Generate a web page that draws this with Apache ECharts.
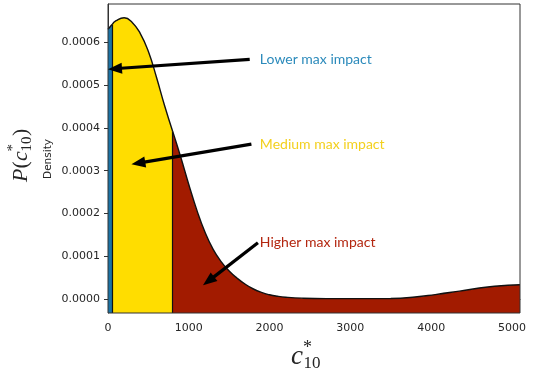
<!DOCTYPE html>
<html>
<head>
<meta charset="utf-8">
<script src="https://cdn.jsdelivr.net/npm/echarts@6/dist/echarts.min.js"></script>
<style>
  html, body { margin: 0; padding: 0; background: #ffffff; }
  #chart { width: 534px; height: 371px; }
</style>
</head>
<body>
<div id="chart"></div>
<script>
// Estimated density of c*_10, sampled along the horizontal axis
const xValues = [0, 50, 100, 200, 300, 400, 500, 600, 700, 800,
  900, 1000, 1100, 1200, 1300, 1400, 1500, 1600, 1700, 1800,
  1900, 2000, 2100, 2200, 2400, 2700, 3100, 3500, 3800, 4050,
  4350, 4700, 4950, 5100];
const density = [0.000630, 0.000641, 0.000650, 0.000657, 0.000646, 0.000620, 0.000578, 0.000518, 0.000452, 0.000392,
  0.000332, 0.000268, 0.000208, 0.000157, 0.000117, 0.000088, 0.000066, 0.000049, 0.000035, 0.000024,
  0.000016, 0.0000105, 0.0000070, 0.0000048, 0.0000026, 0.0000016, 0.0000016, 0.0000020, 0.0000052, 0.0000110,
  0.0000190, 0.0000287, 0.0000326, 0.0000340];

// Class boundaries along c*_10
const classBreaks = [0, 50, 800, 5100];
const classNames = ['Lower max impact', 'Medium max impact', 'Higher max impact'];

// Axis ticks
const xTicks = [0, 1000, 2000, 3000, 4000, 5000];
const yTicks = [0, 0.0001, 0.0002, 0.0003, 0.0004, 0.0005, 0.0006];

// Annotation arrows in data units: tail -> tip, label placed just right of the tail
const arrowTails = [[1754, 0.000560], [1775, 0.000362], [1856, 0.000132]];
const arrowTips = [[0, 0.000537], [290, 0.000315], [1176, 0.0000325]];
const labelAnchors = [[1880, 0.000560], [1880, 0.000362], [1880, 0.000132]];

const fillColors = ['#1b72a4', '#ffdd00', '#a21b00'];
const labelColors = ['#2b8abb', '#f3d01e', '#b3260f'];

const X_MIN = 0, X_MAX = 5100;
const Y_MIN = -0.000032, Y_MAX = 0.000689;

function segment(from, to) {
  const pts = [];
  xValues.forEach((x, i) => { if (x >= from && x <= to) pts.push([x, density[i]]); });
  return pts;
}
function densityAt(x) { return density[xValues.indexOf(x)]; }

const series = classNames.map((name, k) => {
  const from = classBreaks[k], to = classBreaks[k + 1];
  const s = {
    name: name,
    type: 'line',
    data: segment(from, to),
    smooth: 0.5,
    showSymbol: false,
    silent: true,
    z: 2 + k,
    lineStyle: { color: '#111111', width: 1.4 },
    areaStyle: { color: fillColors[k], opacity: 1, origin: 'start' }
  };
  if (k > 0) {
    // dark edge separating this class from the previous one
    s.markLine = {
      silent: true, symbol: 'none', label: { show: false },
      lineStyle: { color: '#111111', width: 1.2, type: 'solid' },
      data: [[{ coord: [from, Y_MIN] }, { coord: [from, densityAt(from)] }]]
    };
  }
  return s;
});

const chart = echarts.init(document.getElementById('chart'), null, { renderer: 'canvas' });

const tickFont = { fontFamily: 'DejaVu Sans', fontSize: 11, color: '#262626' };

chart.setOption({
  animation: false,
  backgroundColor: '#ffffff',
  grid: { left: 108, right: 14, top: 4, bottom: 58, show: true, borderColor: '#333333', borderWidth: 1, backgroundColor: 'transparent', z: 10 },
  xAxis: {
    type: 'value', min: X_MIN, max: X_MAX,
    axisLine: { show: true, lineStyle: { color: '#333333', width: 1 } },
    axisTick: { show: true, length: 4, lineStyle: { color: '#333333' }, customValues: xTicks },
    axisLabel: Object.assign({ margin: 10, customValues: xTicks, formatter: v => String(v) }, tickFont),
    splitLine: { show: false }
  },
  yAxis: {
    type: 'value', min: Y_MIN, max: Y_MAX,
    axisLine: { show: true, lineStyle: { color: '#333333', width: 1 } },
    axisTick: { show: true, length: 4, lineStyle: { color: '#333333' }, customValues: yTicks },
    axisLabel: Object.assign({ margin: 8, customValues: yTicks, formatter: v => v.toFixed(4) }, tickFont),
    splitLine: { show: false }
  },
  series: series
});

// Annotations: arrows and class labels
const graphics = [];
arrowTails.forEach((tail, k) => {
  const p1 = chart.convertToPixel({ gridIndex: 0 }, tail);
  const p2 = chart.convertToPixel({ gridIndex: 0 }, arrowTips[k]);
  const dx = p2[0] - p1[0], dy = p2[1] - p1[1];
  const len = Math.hypot(dx, dy);
  const ux = dx / len, uy = dy / len;
  const headLen = 14, headHalf = 5.5;
  const bx = p2[0] - ux * headLen, by = p2[1] - uy * headLen;
  graphics.push({
    type: 'line', z: 50,
    shape: { x1: p1[0], y1: p1[1], x2: bx + ux, y2: by + uy },
    style: { stroke: '#000000', lineWidth: 3.2 }
  });
  graphics.push({
    type: 'polygon', z: 50,
    shape: { points: [[p2[0], p2[1]], [bx - uy * headHalf, by + ux * headHalf], [bx + uy * headHalf, by - ux * headHalf]] },
    style: { fill: '#000000' }
  });
  const lp = chart.convertToPixel({ gridIndex: 0 }, labelAnchors[k]);
  graphics.push({
    type: 'text', z: 50, x: lp[0], y: lp[1],
    style: { text: classNames[k], fill: labelColors[k], font: '14px Lato', align: 'left', verticalAlign: 'middle' }
  });
});

// Axis titles
graphics.push({
  type: 'text', x: 48, y: 159, rotation: Math.PI / 2,
  style: { text: 'Density', font: '10.5px "DejaVu Sans"', fill: '#262626', align: 'center', verticalAlign: 'middle' }
});

const serif = '"Liberation Serif"';
// P(c*_10), reading bottom to top
graphics.push({
  type: 'group', x: 21, y: 182, rotation: Math.PI / 2,
  children: [
    { type: 'text', x: 0, y: 0, style: { text: 'P', font: 'italic 22px ' + serif, fill: '#262626', verticalAlign: 'middle' } },
    { type: 'text', x: 13.5, y: 0, style: { text: '(', font: '22px ' + serif, fill: '#262626', verticalAlign: 'middle' } },
    { type: 'text', x: 21, y: 0, style: { text: 'c', font: 'italic 22px ' + serif, fill: '#262626', verticalAlign: 'middle' } },
    { type: 'text', x: 30.5, y: -8, style: { text: '*', font: '15px ' + serif, fill: '#262626', verticalAlign: 'middle' } },
    { type: 'text', x: 30.5, y: 6, style: { text: '10', font: '15px ' + serif, fill: '#262626', verticalAlign: 'middle' } },
    { type: 'text', x: 46, y: 0, style: { text: ')', font: '22px ' + serif, fill: '#262626', verticalAlign: 'middle' } }
  ]
});

// c*_10 under the horizontal axis
graphics.push({
  type: 'group', x: 291, y: 357,
  children: [
    { type: 'text', x: 0, y: 0, style: { text: 'c', font: 'italic 27px ' + serif, fill: '#262626', verticalAlign: 'middle' } },
    { type: 'text', x: 12, y: -9, style: { text: '*', font: '18px ' + serif, fill: '#262626', verticalAlign: 'middle' } },
    { type: 'text', x: 12.5, y: 7, style: { text: '10', font: '17px ' + serif, fill: '#262626', verticalAlign: 'middle' } }
  ]
});

chart.setOption({ graphic: graphics });
</script>
</body>
</html>
